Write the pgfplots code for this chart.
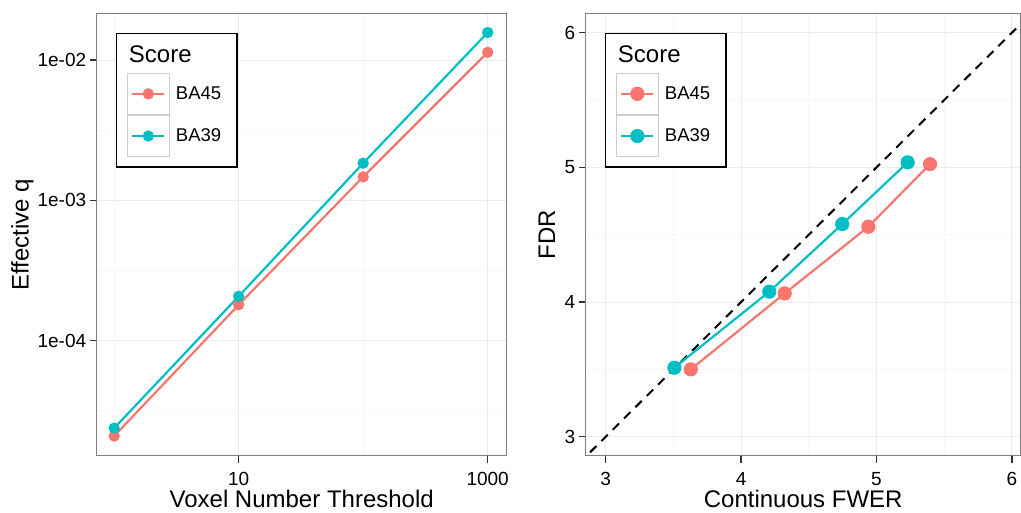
\documentclass[border=0pt]{standalone}
\usepackage{fontspec}
\setmainfont{Liberation Sans}
\usepackage{pgfplots}
\pgfplotsset{compat=1.18}

\definecolor{ggred}{HTML}{F8766D}
\definecolor{ggcyan}{HTML}{00BFC4}
\definecolor{gridmaj}{HTML}{EBEBEB}
\definecolor{gridmin}{HTML}{F7F7F7}
\definecolor{framegray}{HTML}{7F7F7F}
\definecolor{keygray}{HTML}{CCCCCC}

\pgfplotsset{
  ggpanel/.style={
    scale only axis,
    height=442.4pt,
    axis line style={framegray, line width=1.2pt},
    tick style={black!80, line width=1.4pt},
    major tick length=7pt,
    minor tick length=0pt,
    tick align=outside,
    xtick pos=bottom, ytick pos=left,
    grid=both,
    major grid style={gridmaj, line width=1pt},
    minor grid style={gridmin, line width=0.8pt},
    /pgf/number format/assume math mode=true,
    tick label style={font=\fontsize{19}{22}\selectfont},
    xticklabel style={yshift=-6pt},
    label style={font=\fontsize{24}{28}\selectfont},
    xlabel style={at={(axis description cs:0.5,-0.1165)}, anchor=base,
      inner sep=0pt, text depth=0pt},
    legend cell align=left,
    legend style={
      draw=black, line width=1.5pt, fill=white,
      inner xsep=10pt, inner ysep=10pt,
      row sep=0pt, column sep=0pt,
      nodes={draw=none, inner xsep=6pt, inner ysep=0pt, font=\fontsize{18.5}{21}\selectfont},
    },
    legend image code/.code={
      \draw[keygray, line width=1.2pt, fill=white] (0pt,-20.5pt) rectangle (42pt,20.5pt);
      \draw[mark repeat=2, mark phase=2, #1] plot coordinates {(5pt,0pt) (21pt,0pt) (37pt,0pt)};
    },
  },
  % invisible spacer that gives the legend title row its height
  titlerow/.style={legend image code/.code={\path[draw=none, fill=none] (0pt,-18pt) rectangle (42pt,11pt);}},
}

\begin{document}
\begin{tikzpicture}

% left panel
\begin{axis}[
  ggpanel,
  width=410pt,
  xmode=log, ymode=log,
  xmin=0.724, xmax=1422,
  ymin=1.514e-5, ymax=0.02153,
  xtick={10,1000}, xticklabels={10,1000},
  minor xtick={1,100},
  ytick={1e-4,1e-3,1e-2}, yticklabels={1e-04,1e-03,1e-02},
  minor ytick={3.162e-5,3.162e-4,3.162e-3},
  xlabel={Voxel Number Threshold},
  ylabel={Effective q},
  ylabel style={at={(axis description cs:-0.1663,0.5)}, anchor=base},
  legend style={at={(axis description cs:0.047,0.9555)}, anchor=north west},
]
\addlegendimage{titlerow}
\addlegendentry{\hspace*{-47pt}\fontsize{24}{28}\selectfont Score}

\addplot[ggred, line width=2.2pt, mark=*, mark size=4.5pt] coordinates {
  (1, 2.09e-5) (10, 1.80e-4) (100, 1.47e-3) (1000, 1.135e-2)
};
\addlegendentry{BA45}

\addplot[ggcyan, line width=2.2pt, mark=*, mark size=4.5pt] coordinates {
  (1, 2.38e-5) (10, 2.07e-4) (100, 1.84e-3) (1000, 1.57e-2)
};
\addlegendentry{BA39}
\end{axis}

% right panel
\begin{axis}[
  ggpanel,
  at={(489pt,0pt)},
  width=435pt,
  xmin=2.852, xmax=6.065,
  ymin=2.859, ymax=6.144,
  xtick={3,4,5,6}, minor xtick={3.5,4.5,5.5},
  ytick={3,4,5,6}, minor ytick={3.5,4.5,5.5},
  xlabel={Continuous FWER},
  ylabel={FDR},
  ylabel style={at={(axis description cs:-0.0705,0.5)}, anchor=base},
  legend style={at={(axis description cs:0.0443,0.9555)}, anchor=north west},
]
\addlegendimage{titlerow}
\addlegendentry{\hspace*{-47pt}\fontsize{24}{28}\selectfont Score}

\addplot[forget plot, black, line width=2pt, dash pattern=on 9pt off 7pt] coordinates {
  (2.8, 2.8) (6.2, 6.2)
};

\addplot[ggred, line width=2.2pt, mark=*, mark size=6pt] coordinates {
  (3.628, 3.500) (4.322, 4.064) (4.940, 4.559) (5.395, 5.024)
};
\addlegendentry{BA45}

\addplot[ggcyan, line width=2.2pt, mark=*, mark size=6pt] coordinates {
  (3.507, 3.512) (4.208, 4.077) (4.747, 4.579) (5.230, 5.037)
};
\addlegendentry{BA39}
\end{axis}

\pgfresetboundingbox
\path[use as bounding box] (-96.7pt,-57.3pt) rectangle (924.3pt,455.7pt);
\end{tikzpicture}
\end{document}
